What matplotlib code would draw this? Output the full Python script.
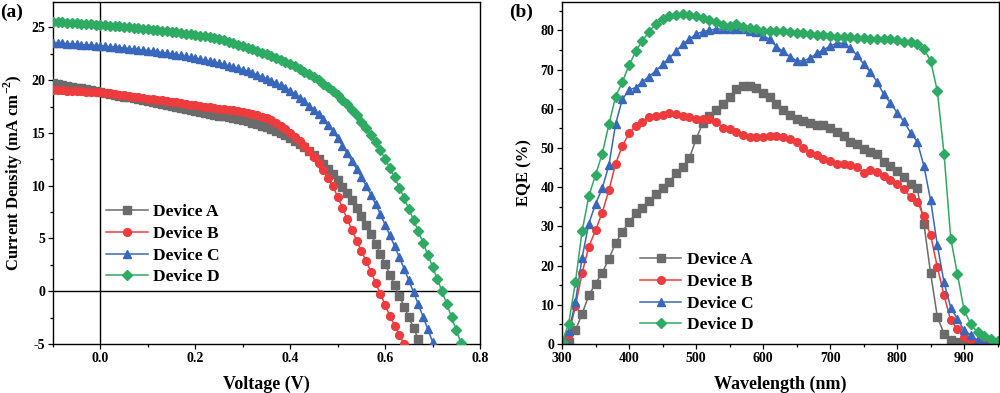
import numpy as np
import matplotlib
matplotlib.use('Agg')
from matplotlib import pyplot as plt
from matplotlib.ticker import MultipleLocator

plt.rcParams['font.family'] = ['Liberation Serif', 'DejaVu Serif']
plt.rcParams['font.weight'] = 'bold'
plt.rcParams['mathtext.fontset'] = 'custom'
plt.rcParams['mathtext.rm'] = 'Liberation Serif:bold'
plt.rcParams['mathtext.bf'] = 'Liberation Serif:bold'
plt.rcParams['axes.unicode_minus'] = False

labels = ['Device A', 'Device B', 'Device C', 'Device D']
colors = ['#6b6b6b', '#ee3b3d', '#3867bb', '#2eab62']
markers = ['s', 'o', '^', 'D']

# J-V, voltage from -0.10 V in 0.01 V steps
jv_a = [19.70, 19.62, 19.54, 19.46, 19.38, 19.30, 19.22, 19.14, 19.06, 18.98,
        18.90, 18.81, 18.72, 18.63, 18.54, 18.45, 18.36, 18.27, 18.18, 18.09,
        18.00, 17.91, 17.82, 17.73, 17.64, 17.55, 17.46, 17.37, 17.28, 17.19,
        17.10, 17.01, 16.92, 16.83, 16.74, 16.65, 16.56, 16.47, 16.38, 16.29,
        16.20, 16.09, 15.97, 15.84, 15.70, 15.55, 15.38, 15.20, 15.00, 14.78,
        14.54, 14.27, 13.98, 13.66, 13.31, 12.93, 12.52, 12.08, 11.60, 11.08,
        10.52, 9.92, 9.28, 8.60, 7.88, 7.12, 6.32, 5.45, 4.52, 3.55,
        2.57, 1.58, 0.58, -0.43, -1.45, -2.47, -3.50, -4.53, -5.55]
jv_b = [19.10, 19.07, 19.05, 19.02, 19.00, 18.97, 18.95, 18.92, 18.90, 18.87,
        18.85, 18.80, 18.74, 18.68, 18.62, 18.56, 18.50, 18.44, 18.38, 18.32,
        18.26, 18.20, 18.14, 18.08, 18.02, 17.96, 17.89, 17.82, 17.75, 17.68,
        17.61, 17.55, 17.49, 17.43, 17.37, 17.31, 17.25, 17.19, 17.13, 17.07,
        17.00, 16.90, 16.80, 16.68, 16.54, 16.38, 16.18, 15.96, 15.70, 15.38,
        15.02, 14.62, 14.20, 13.75, 13.28, 12.75, 12.15, 11.45, 10.70, 9.95,
        8.95, 7.90, 6.85, 5.80, 4.80, 3.80, 2.85, 1.85, 0.80, -0.25,
        -1.30, -2.35, -3.25, -4.15, -5.00]
jv_c = [23.55, 23.52, 23.49, 23.46, 23.43, 23.40, 23.37, 23.34, 23.31, 23.28,
        23.25, 23.21, 23.17, 23.13, 23.09, 23.05, 23.00, 22.95, 22.90, 22.85,
        22.80, 22.74, 22.68, 22.62, 22.56, 22.50, 22.42, 22.34, 22.26, 22.18,
        22.10, 22.00, 21.90, 21.80, 21.70, 21.60, 21.49, 21.37, 21.25, 21.12,
        20.98, 20.83, 20.67, 20.50, 20.32, 20.13, 19.93, 19.72, 19.50, 19.26,
        19.00, 18.68, 18.34, 17.98, 17.60, 17.20, 16.78, 16.32, 15.78, 15.20,
        14.48, 13.80, 13.08, 12.35, 11.58, 10.80, 10.00, 9.15, 8.25, 7.30,
        6.30, 5.30, 4.28, 3.22, 2.14, 1.03, -0.10, -1.25, -2.42, -3.60,
        -4.80]
jv_d = [25.55, 25.52, 25.49, 25.46, 25.43, 25.40, 25.37, 25.33, 25.30, 25.27,
        25.24, 25.20, 25.17, 25.13, 25.09, 25.05, 25.01, 24.97, 24.93, 24.89,
        24.85, 24.80, 24.75, 24.70, 24.65, 24.60, 24.54, 24.48, 24.42, 24.36,
        24.30, 24.22, 24.14, 24.06, 23.98, 23.90, 23.78, 23.66, 23.52, 23.38,
        23.22, 23.08, 22.93, 22.78, 22.62, 22.45, 22.28, 22.10, 21.92, 21.72,
        21.52, 21.30, 21.06, 20.82, 20.56, 20.28, 19.98, 19.66, 19.32, 18.96,
        18.58, 18.16, 17.70, 17.20, 16.66, 16.08, 15.46, 14.80, 14.10, 13.36,
        12.55, 11.68, 10.78, 9.82, 8.82, 7.80, 6.75, 5.68, 4.58, 3.46,
        2.32, 1.16, -0.02, -1.22, -2.44, -3.68, -4.94]

# EQE, wavelength 300-950 nm in 10 nm steps
wl = np.arange(300, 951, 10)
eqe_a = [0.0, 0.5, 3.5, 7.7, 12.4, 15.4, 18.2, 21.7, 25.8, 28.6,
         31.1, 33.3, 34.8, 36.5, 38.2, 39.9, 41.4, 43.5, 45.2, 47.4,
         52.2, 56.4, 58.2, 59.8, 61.2, 63.1, 65.0, 65.8, 65.8, 65.4,
         64.1, 62.9, 61.2, 59.7, 58.4, 57.5, 56.9, 56.3, 55.8, 55.8,
         55.0, 54.1, 53.0, 51.6, 51.0, 49.7, 49.0, 48.4, 46.5, 45.4,
         44.1, 42.6, 40.9, 39.7, 30.6, 18.0, 6.9, 2.6, 0.9, 0.5,
         0.3, 0.1, 0.0, 0.0, 0.0, 0.0]
eqe_b = [0.0, 2.5, 9.6, 18.1, 24.8, 29.0, 33.5, 39.2, 46.0, 50.5,
         53.7, 55.6, 56.7, 57.8, 58.2, 58.4, 58.8, 58.6, 58.1, 57.8,
         57.5, 57.3, 57.3, 56.7, 55.2, 54.9, 54.0, 53.3, 52.7, 52.7,
         52.9, 53.0, 53.0, 52.9, 52.2, 51.6, 50.1, 48.8, 48.1, 47.3,
         46.7, 46.0, 45.9, 45.6, 45.2, 43.7, 44.5, 43.8, 42.8, 41.8,
         40.9, 39.5, 37.5, 36.3, 32.6, 27.7, 19.6, 12.4, 6.0, 3.9,
         1.8, 1.1, 0.5, 0.2, 0.1, 0.0]
eqe_c = [0.5, 3.2, 10.7, 22.0, 30.7, 35.7, 39.7, 45.6, 56.1, 62.4,
         64.8, 65.4, 66.9, 68.2, 69.7, 71.3, 72.9, 74.7, 76.4, 77.7,
         79.1, 79.6, 80.1, 80.3, 80.3, 80.3, 80.3, 80.3, 79.8, 79.5,
         78.6, 77.7, 75.8, 74.6, 73.3, 72.2, 72.2, 72.9, 74.1, 75.0,
         76.0, 76.7, 76.7, 75.4, 73.7, 71.4, 69.4, 66.9, 63.7, 61.5,
         59.0, 56.8, 53.9, 51.6, 45.4, 36.6, 25.2, 15.7, 9.3, 6.3,
         3.5, 2.2, 0.9, 0.3, 0.1, 0.0]
eqe_d = [0.5, 5.2, 15.8, 28.8, 37.7, 43.1, 48.5, 56.0, 63.1, 66.8,
         71.1, 74.6, 77.4, 79.6, 81.7, 82.8, 83.7, 83.9, 84.2, 83.8,
         83.7, 83.1, 82.6, 82.0, 81.4, 81.1, 81.6, 80.9, 80.5, 80.3,
         79.9, 79.8, 79.8, 79.7, 79.5, 79.2, 79.2, 79.0, 78.8, 78.7,
         78.6, 78.4, 78.3, 78.2, 78.1, 78.0, 77.9, 77.9, 77.9, 77.7,
         77.5, 76.9, 76.9, 76.4, 75.3, 72.2, 64.5, 48.5, 26.9, 17.8,
         8.6, 5.0, 3.0, 2.0, 1.4, 0.8]

fig = plt.figure(figsize=(10, 3.93), dpi=100)
ax1 = fig.add_axes([0.053, 0.1247, 0.427, 0.870])
ax2 = fig.add_axes([0.562, 0.1247, 0.437, 0.870])

# (a) J-V
ax1.axhline(0, color='black', lw=1.0, zorder=1)
ax1.axvline(0, color='black', lw=1.0, zorder=1)
for j, lab, c, m in zip([jv_a, jv_b, jv_c, jv_d], labels, colors, markers):
    v = np.round(-0.10 + 0.01 * np.arange(len(j)), 2)
    ms = 5.2 if m == 'D' else 5.6
    ax1.plot(v, j, color=c, marker=m, ms=ms, lw=1.1, label=lab, zorder=3)
ax1.set_xlim(-0.1, 0.8)
ax1.set_ylim(-5, 27.4)
ax1.xaxis.set_minor_locator(MultipleLocator(0.1))
ax1.yaxis.set_major_locator(MultipleLocator(5))
ax1.yaxis.set_minor_locator(MultipleLocator(2.5))
ax1.set_xticks([0, 0.2, 0.4, 0.6, 0.8])
ax1.set_xticklabels(['0.0', '0.2', '0.4', '0.6', '0.8'])
ax1.set_xlabel('Voltage (V)', fontsize=13, fontweight='bold', va='center')
ax1.set_ylabel('Current Density (mA cm$^{-2}$)', fontsize=12, fontweight='bold',
               va='center')
ax1.yaxis.set_label_coords(-0.092, 0.5)
ax1.xaxis.set_label_coords(0.5, -0.117)
ax1.legend(loc='center left', bbox_to_anchor=(0.125, 0.29), frameon=False,
           fontsize=12.5, handlelength=2.4, handletextpad=0.3, labelspacing=0.32,
           borderpad=0, borderaxespad=0)

# (b) EQE
for e, lab, c, m in zip([eqe_a, eqe_b, eqe_c, eqe_d], labels, colors, markers):
    ms = 5.0 if m == 'D' else 5.5
    ax2.plot(wl, e, color=c, marker=m, ms=ms, lw=1.1, label=lab)
ax2.set_xlim(300, 952)
ax2.set_ylim(0, 87.2)
ax2.xaxis.set_major_locator(MultipleLocator(100))
ax2.xaxis.set_minor_locator(MultipleLocator(50))
ax2.yaxis.set_major_locator(MultipleLocator(10))
ax2.yaxis.set_minor_locator(MultipleLocator(5))
ax2.set_xlabel('Wavelength (nm)', fontsize=13, fontweight='bold', va='center')
ax2.set_ylabel('EQE (%)', fontsize=12, fontweight='bold', va='center')
ax2.yaxis.set_label_coords(-0.085, 0.5)
ax2.xaxis.set_label_coords(0.5, -0.117)
ax2.legend(loc='center left', bbox_to_anchor=(0.178, 0.15), frameon=False,
           fontsize=12.5, handlelength=2.4, handletextpad=0.3, labelspacing=0.32,
           borderpad=0, borderaxespad=0)

for ax in (ax1, ax2):
    for s in ax.spines.values():
        s.set_linewidth(1.0)
    ax.tick_params(which='major', direction='out', length=3.6, width=0.9,
                   labelsize=10, pad=2, top=False, right=False)
    ax.tick_params(which='minor', direction='out', length=1.9, width=0.9,
                   top=False, right=False)
    for t in ax.get_xticklabels() + ax.get_yticklabels():
        t.set_fontweight('bold')

fig.text(0.0, 0.968, '(a)', fontsize=14, fontweight='bold', va='center', ha='left')
fig.text(0.509, 0.968, '(b)', fontsize=14, fontweight='bold', va='center', ha='left')

plt.savefig('out.png', dpi=100)
